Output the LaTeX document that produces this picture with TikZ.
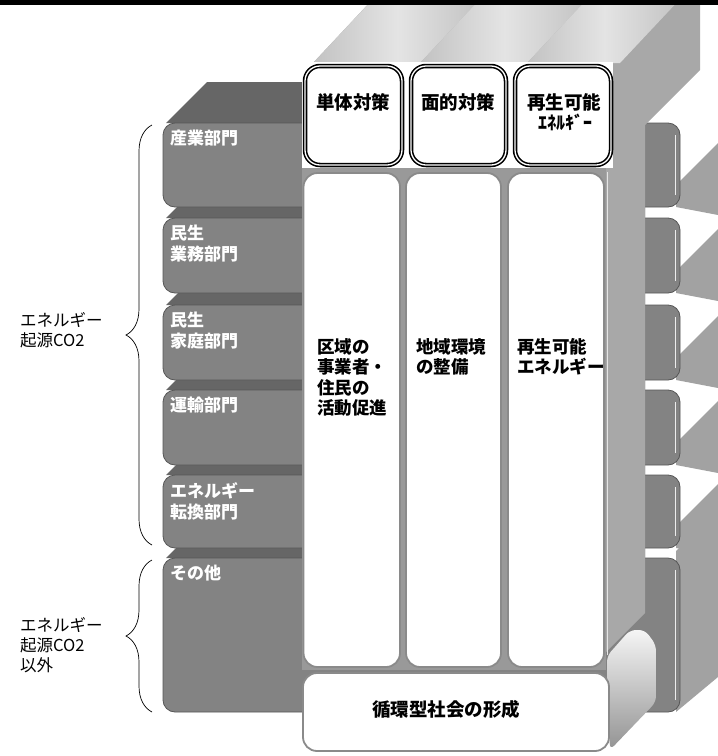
\documentclass[tikz,border=0pt]{standalone}
\usepackage{fontspec}
\setmainfont{Noto Sans CJK JP}
\usetikzlibrary{decorations.pathreplacing}

\definecolor{barface}{HTML}{838383}
\definecolor{bartop}{HTML}{666666}
\definecolor{barline}{HTML}{565656}
\definecolor{barside}{HTML}{A2A2A2}
\definecolor{colface}{HTML}{999999}
\definecolor{colside}{HTML}{A8A8A8}
\definecolor{coltop}{HTML}{C2C2C2}
\definecolor{coltoplight}{HTML}{E4E4E4}
\definecolor{boxline}{HTML}{8A8A8A}

\tikzset{
  barfront/.style={fill=barface, draw=barline, line width=0.8pt, rounded corners=12pt},
  bartopface/.style={fill=bartop},
  barsideface/.style={fill=barside},
  hdrbox/.style={fill=white, draw=black, line width=1.6pt, double=white, double distance=1.3pt, rounded corners=15pt},
  colbox/.style={fill=white, draw=boxline, line width=1.8pt, rounded corners=14pt},
  bartext/.style={anchor=north west, align=left, text=white, inner sep=0pt, font=\bfseries\fontsize{17}{21}\selectfont},
  coltext/.style={anchor=north west, align=left, inner sep=0pt, font=\bfseries\fontsize{17.5}{20.5}\selectfont},
  hdrtext/.style={inner sep=0pt, font=\bfseries\fontsize{18.5}{21}\selectfont},
  sidelabel/.style={anchor=west, align=left, inner sep=0pt, font=\fontsize{16.5}{20}\selectfont},
  sidebrace/.style={decorate, decoration={brace, amplitude=26pt}, line width=0.7pt},
}

\begin{document}
\begin{tikzpicture}[x=1pt, y=-1pt]
  \useasboundingbox (0,0) rectangle (718,756);

  % Sector bars (lowest first, so the upper ones overlap)
  \foreach \n/\ytop/\ybot/\ys/\ye/\lab in {
      6/558/712/551/677/{その他},
      5/475/548/526/556/{エネルギー\\転換部門},
      4/390/465/443/473/{運輸部門},
      3/305/380/358/388/{民生\\家庭部門},
      2/218/293/271/301/{民生\\業務部門},
      1/123/207/185/215/{産業部門}} {
    \fill[bartopface] (166,\ytop) -- (207,\ytop-41) -- (645,\ytop-41) -- (645,\ytop) -- cycle;
    \fill[barsideface] (676,\ys) -- (718,\ys-42) -- (718,\ye) -- (676,\ybot) -- cycle;
    \draw[barfront] (163,\ytop) rectangle (680,\ybot);
    \draw[white!85!gray, line width=0.8pt] (675,\ytop+12) -- (675,\ybot-12);
    \node[bartext] (bar\n) at (170,\ytop+7) {\lab};
  }

  % Measure columns: side and top faces
  \fill[colside] (313,63) -- (372,0) -- (700,0) -- (700,70) -- (645,125) -- (645,613)
    -- (603,655) -- (603,668) -- (302,668) -- (302,63) -- cycle;
  \foreach \xl/\xr in {313/420, 420/527, 527/620} {
    \shade[left color=coltop, right color=coltop, middle color=coltoplight]
      (\xl,63) -- (\xl+62,-3) -- (\xr+62,-3) -- (\xr,63) -- cycle;
  }
  \draw[white!80!gray, line width=1pt] (607,172) -- (607,655);
  \fill[colface] (302,165) rectangle (606,670);
  \fill[white] (302,62) rectangle (613,168);

  % Column heads
  \foreach \xl/\xr in {305/402, 411/506, 515/611} {
    \draw[hdrbox] (\xl,66) rectangle (\xr,165);
  }
  \node[hdrtext] (hdr1) at (353,102) {単体対策};
  \node[hdrtext] (hdr2) at (458,102) {面的対策};
  \node[hdrtext] (hdr3) at (564,102) {再生可能};
  \node[hdrtext, font=\bfseries\fontsize{18}{18}\selectfont] (hdr3b) at (565,122) {ｴﾈﾙｷﾞｰ};

  % Column bodies
  \draw[colbox] (303.5,173) rectangle (400,667);
  \draw[colbox] (406,173) rectangle (501,667);
  \draw[colbox] (508,173) rectangle (604,667);
  \node[coltext] (act) at (317,338) {区域の\\事業者・\\住民の\\活動促進};
  \node[coltext] (env) at (416,338) {地域環境\\の整備};
  \node[coltext] (ren) at (517,338) {再生可能\\エネルギー};

  % Base bar
  \shade[top color=white!92!gray, bottom color=gray!85, rounded corners=6pt]
    (607,672) -- (607,656) -- (630,630) -- (645,630) -- (656,645) -- (656,702) -- (610,750) -- cycle;
  \draw[colbox] (303,673) rectangle (609,751);
  \node[hdrtext] (cyc) at (446,709) {循環型社会の形成};

  % Braces and group labels
  \coordinate (br1a) at (152,545);
  \coordinate (br1b) at (152,125);
  \coordinate (br2a) at (152,712);
  \coordinate (br2b) at (152,560);
  \draw[sidebrace] (br1a) -- (br1b);
  \draw[sidebrace] (br2a) -- (br2b);
  \node[sidelabel] (co2) at (20,330) {エネルギー\\起源CO2};
  \node[sidelabel] (nonco2) at (20,645) {エネルギー\\起源CO2\\以外};

  \fill[black] (0,0) rectangle (718,5);
\end{tikzpicture}
\end{document}
